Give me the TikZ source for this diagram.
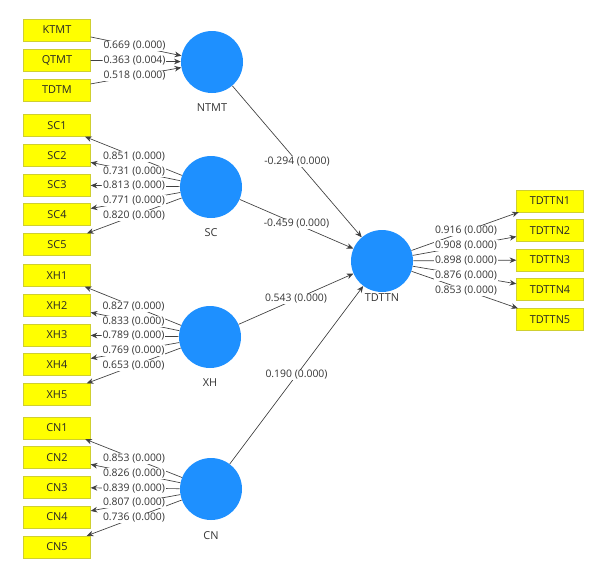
\documentclass[tikz,border=0pt]{standalone}
\usepackage{fontspec}
\setmainfont{Open Sans}
\usetikzlibrary{arrows.meta,calc}
\definecolor{lvblue}{HTML}{1E90FF}
\definecolor{indyellow}{HTML}{FFFF00}
\definecolor{indborder}{HTML}{CFCF30}
\definecolor{txtgray}{HTML}{353535}
\begin{document}
\begin{tikzpicture}[x=0.75pt,y=-0.75pt,
  ind/.style={draw=indborder, fill=indyellow, line width=0.5pt, minimum width=50pt, minimum height=16.3pt, inner sep=0pt, font=\fontsize{8.2}{9}\selectfont, text=black!85},
  lv/.style={circle, fill=lvblue, minimum size=46.5pt, inner sep=0pt},
  lvlab/.style={font=\fontsize{8.2}{9}\selectfont, text=txtgray},
  edge/.style={draw=black!75, line width=0.5pt, -{Stealth[length=5pt,width=4.2pt]}},
  wl/.style={fill=white, inner sep=0.5pt, font=\fontsize{7.8}{8.5}\selectfont, text=txtgray}]
\useasboundingbox[fill=white] (0,0) rectangle (597,569);

% latent variables
\node[lv] (NTMT) at (212,62) {};
\node[lv] (SC) at (211,187) {};
\node[lv] (XH) at (210,337) {};
\node[lv] (CN) at (211,489) {};
\node[lv] (TDTTN) at (382,261) {};
\node[lvlab] (NTMTl) at (212,108) {NTMT};
\node[lvlab] (SCl) at (211,233) {SC};
\node[lvlab] (XHl) at (210,383) {XH};
\node[lvlab] (CNl) at (211,536) {CN};
\node[lvlab] (TDTTNl) at (382,298) {TDTTN};

% indicators
\foreach \n/\y in {KTMT/30,QTMT/60,TDTM/90,SC1/125.5,SC2/155.5,SC3/185,SC4/214.5,SC5/244.5,XH1/275.5,XH2/305.5,XH3/335,XH4/364.5,XH5/394.5,CN1/428,CN2/457.5,CN3/487.5,CN4/517,CN5/547}
  \node[ind] (\n) at (57,\y) {\n};
\foreach \n/\y in {TDTTN1/201,TDTTN2/230.5,TDTTN3/260,TDTTN4/289.5,TDTTN5/319.5}
  \node[ind] (\n) at (550,\y) {\n};

% edges
\foreach \a in {KTMT,QTMT,TDTM} \draw[edge] (\a) -- (NTMT);
\foreach \b in {SC1,SC2,SC3,SC4,SC5} \draw[edge] (SC) -- (\b);
\foreach \b in {XH1,XH2,XH3,XH4,XH5} \draw[edge] (XH) -- (\b);
\foreach \b in {CN1,CN2,CN3,CN4,CN5} \draw[edge] (CN) -- (\b);
\foreach \b in {TDTTN1,TDTTN2,TDTTN3,TDTTN4,TDTTN5} \draw[edge] (TDTTN) -- (\b);
\foreach \a in {NTMT,SC,XH,CN} \draw[edge] (\a) -- (TDTTN);

% labels
\node[wl] (lKTMT) at ($(KTMT.center)!0.5!(NTMT.center)$) {0.669 (0.000)};
\node[wl] (lQTMT) at ($(QTMT.center)!0.5!(NTMT.center)$) {0.363 (0.004)};
\node[wl] (lTDTM) at ($(TDTM.center)!0.5!(NTMT.center)$) {0.518 (0.000)};

\node[wl] (lSC1) at ($(SC1.center)!0.5!(SC.center)$) {0.851 (0.000)};
\node[wl] (lSC2) at ($(SC2.center)!0.5!(SC.center)$) {0.731 (0.000)};
\node[wl] (lSC3) at ($(SC3.center)!0.5!(SC.center)$) {0.813 (0.000)};
\node[wl] (lSC4) at ($(SC4.center)!0.5!(SC.center)$) {0.771 (0.000)};
\node[wl] (lSC5) at ($(SC5.center)!0.5!(SC.center)$) {0.820 (0.000)};

\node[wl] (lXH1) at ($(XH1.center)!0.5!(XH.center)$) {0.827 (0.000)};
\node[wl] (lXH2) at ($(XH2.center)!0.5!(XH.center)$) {0.833 (0.000)};
\node[wl] (lXH3) at ($(XH3.center)!0.5!(XH.center)$) {0.789 (0.000)};
\node[wl] (lXH4) at ($(XH4.center)!0.5!(XH.center)$) {0.769 (0.000)};
\node[wl] (lXH5) at ($(XH5.center)!0.5!(XH.center)$) {0.653 (0.000)};

\node[wl] (lCN1) at ($(CN1.center)!0.5!(CN.center)$) {0.853 (0.000)};
\node[wl] (lCN2) at ($(CN2.center)!0.5!(CN.center)$) {0.826 (0.000)};
\node[wl] (lCN3) at ($(CN3.center)!0.5!(CN.center)$) {0.839 (0.000)};
\node[wl] (lCN4) at ($(CN4.center)!0.5!(CN.center)$) {0.807 (0.000)};
\node[wl] (lCN5) at ($(CN5.center)!0.5!(CN.center)$) {0.736 (0.000)};

\node[wl] (lT1) at ($(TDTTN1.center)!0.5!(TDTTN.center)$) {0.916 (0.000)};
\node[wl] (lT2) at ($(TDTTN2.center)!0.5!(TDTTN.center)$) {0.908 (0.000)};
\node[wl] (lT3) at ($(TDTTN3.center)!0.5!(TDTTN.center)$) {0.898 (0.000)};
\node[wl] (lT4) at ($(TDTTN4.center)!0.5!(TDTTN.center)$) {0.876 (0.000)};
\node[wl] (lT5) at ($(TDTTN5.center)!0.5!(TDTTN.center)$) {0.853 (0.000)};

\node[wl] (lNT) at ($(NTMT.center)!0.5!(TDTTN.center)$) {-0.294 (0.000)};
\node[wl] (lSCT) at ($(SC.center)!0.5!(TDTTN.center)$) {-0.459 (0.000)};
\node[wl] (lXHT) at ($(XH.center)!0.5!(TDTTN.center)$) {0.543 (0.000)};
\node[wl] (lCNT) at ($(CN.center)!0.5!(TDTTN.center)$) {0.190 (0.000)};
\end{tikzpicture}
\end{document}
